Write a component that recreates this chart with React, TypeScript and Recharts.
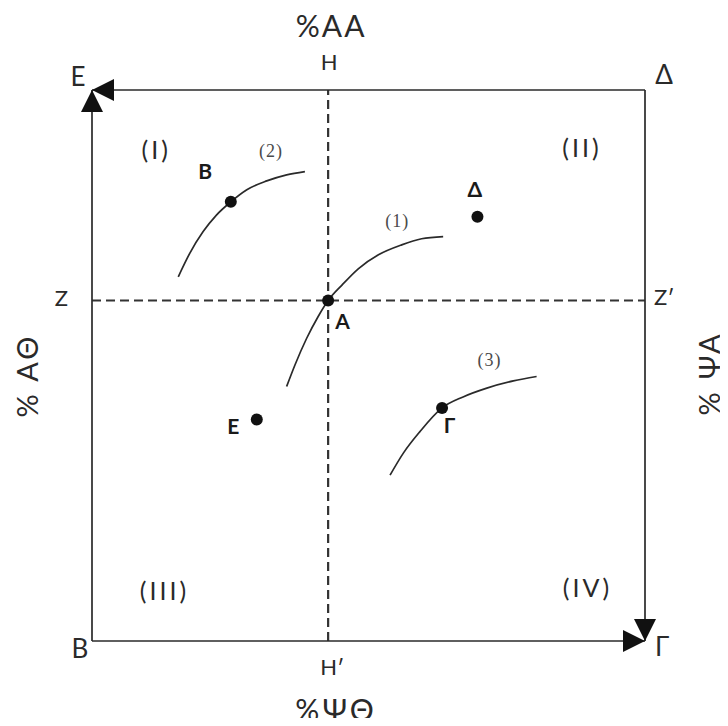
import { ComposedChart, Line, Scatter, XAxis, YAxis, ReferenceLine, ReferenceDot, LabelList } from 'recharts'

const SANS = 'Lato, "Open Sans", sans-serif'
const SERIF = '"Liberation Serif", "DejaVu Serif", serif'
const INK = '#2a2a2a'

// where the dashed axes H–H′ and Z–Z′ cross, in % of each side
const crossX = 42.7
const crossY = 61.8

const curve1 = [
  { x: 35.2, y: 46.2 }, { x: 36.7, y: 50.1 }, { x: 38.8, y: 54.9 }, { x: 40.9, y: 58.9 },
  { x: 42.7, y: 61.8 }, { x: 45.2, y: 64.6 }, { x: 48.2, y: 67.6 }, { x: 51.8, y: 70.1 },
  { x: 56.0, y: 71.9 }, { x: 59.6, y: 73.0 }, { x: 63.5, y: 73.4 },
]
const curve2 = [
  { x: 15.6, y: 66.1 }, { x: 17.7, y: 70.4 }, { x: 20.1, y: 74.3 }, { x: 22.5, y: 77.3 },
  { x: 25.1, y: 79.7 }, { x: 28.0, y: 81.9 }, { x: 31.6, y: 83.5 }, { x: 35.2, y: 84.6 },
  { x: 38.5, y: 85.2 },
]
const curve3 = [
  { x: 53.9, y: 30.1 }, { x: 56.3, y: 34.1 }, { x: 59.3, y: 38.0 }, { x: 63.3, y: 42.3 },
  { x: 67.1, y: 44.3 }, { x: 71.4, y: 45.9 }, { x: 76.2, y: 47.2 }, { x: 80.4, y: 48.0 },
]
const curveNames = ['(1)', '(2)', '(3)']
const curveData = [curve1, curve2, curve3]

const pointNames = ['Α', 'Β', 'Γ', 'Δ', 'Ε']
const pointX = [42.7, 25.1, 63.3, 69.7, 29.8]
const pointY = [61.8, 79.7, 42.3, 77.0, 40.2]
const points = pointNames.map((name, i) => ({ name, x: pointX[i], y: pointY[i] }))

const quadrantNames = ['(I)', '(II)', '(III)', '(IV)']

// label placement (pixels from the anchor) and quadrant label anchors
const pointLabelOffset: Record<string, [number, number]> = {
  'Α': [19, 25], 'Β': [-21, -26], 'Γ': [12, 22], 'Δ': [2, -23], 'Ε': [-19, 11],
}
const curveLabelOffset: [number, number][] = [[-46, -16], [-34, -21], [-47, -17]]
const quadrantAnchor: [number, number][] = [[11.6, 89.1], [88.6, 89.5], [13.1, 9.1], [89.6, 9.7]]

const ARROW_LEN = 22
const ARROW_HALF = 11

type Corner = { x: number; y: number; name: string; dx: number; dy: number; arrows: string[] }
const corners: Corner[] = [
  { x: 0, y: 100, name: 'Ε', dx: -14, dy: -13, arrows: ['left', 'up'] },
  { x: 100, y: 100, name: 'Δ', dx: 19, dy: -15, arrows: [] },
  { x: 0, y: 0, name: 'Β', dx: -12, dy: 8, arrows: [] },
  { x: 100, y: 0, name: 'Γ', dx: 17, dy: 6, arrows: ['right', 'down'] },
]

function arrowPoints(dir: string, cx: number, cy: number) {
  const l = ARROW_LEN
  const h = ARROW_HALF
  switch (dir) {
    case 'left': return `${cx},${cy} ${cx + l},${cy - h} ${cx + l},${cy + h}`
    case 'right': return `${cx},${cy} ${cx - l},${cy - h} ${cx - l},${cy + h}`
    case 'up': return `${cx},${cy} ${cx - h},${cy + l} ${cx + h},${cy + l}`
    default: return `${cx},${cy} ${cx - h},${cy - l} ${cx + h},${cy - l}`
  }
}

// text centred on (x, y) by its capital height
function Caption({ x, y, children, size, ...rest }: any) {
  return (
    <text x={x} y={y} dy={size * 0.36} textAnchor="middle" fontFamily={SANS} fontSize={size} fill={INK} {...rest}>
      {children}
    </text>
  )
}

function CornerMark({ cx, cy, corner }: any) {
  return (
    <g>
      {corner.arrows.map((d: string) => (
        <polygon key={d} points={arrowPoints(d, cx, cy)} fill="#111" />
      ))}
      <Caption x={cx + corner.dx} y={cy + corner.dy} size={26}>{corner.name}</Caption>
    </g>
  )
}

function TopTick({ x, y }: any) {
  return (
    <g fill={INK} fontFamily={SANS} textAnchor="middle">
      <text x={x + 1} y={y} fontSize={22}>Η</text>
      <text x={x + 3} y={y - 33} fontSize={30} letterSpacing={2}>%ΑΑ</text>
    </g>
  )
}

function BottomTick({ x, y }: any) {
  return (
    <g fill={INK} fontFamily={SANS} textAnchor="middle">
      <text x={x + 4} y={y} fontSize={22}>Η′</text>
      <text x={x + 8} y={y + 46} fontSize={30} letterSpacing={3}>%ΨΘ</text>
    </g>
  )
}

function LeftTick({ x, y }: any) {
  return <text x={x} y={y} dy={6} textAnchor="end" fontFamily={SANS} fontSize={22} fill={INK}>Ζ</text>
}

function RightTick({ x, y }: any) {
  return <text x={x} y={y} dy={5} textAnchor="start" fontFamily={SANS} fontSize={22} fill={INK}>Ζ′</text>
}

function sideTitle(text: string, dx: number, dy: number) {
  return ({ viewBox }: any) => {
    const cx = viewBox.x + dx
    const cy = viewBox.y + viewBox.height / 2 + dy
    return (
      <g transform={`rotate(-90 ${cx} ${cy})`}>
        <Caption x={cx} y={cy} size={29} letterSpacing={3}>{text}</Caption>
      </g>
    )
  }
}

function PointLabel({ x, y, value }: any) {
  const [dx, dy] = pointLabelOffset[value] ?? [0, 0]
  return <Caption x={x + dx} y={y + dy} size={21} fontWeight={700} fill="#1a1a1a">{value}</Caption>
}

const curveLabel = (i: number) => ({ x, y, index }: any) => {
  if (index !== curveData[i].length - 1) return null
  const [dx, dy] = curveLabelOffset[i]
  return (
    <text x={x + dx} y={y + dy} dy={6} textAnchor="middle" fontFamily={SERIF} fontSize={18} letterSpacing={1}
      fill="#4a4a4a">{curveNames[i]}</text>
  )
}

const axisLine = { stroke: INK, strokeWidth: 1.7 }

export default function App() {
  return (
    <div style={{ margin: -8, width: 728, height: 726, background: '#fff' }}>
      <ComposedChart width={728} height={726} margin={{ top: 0, right: 0, bottom: 0, left: 0 }}>
        <XAxis dataKey="x" type="number" domain={[0, 100]} allowDataOverflow orientation="bottom" height={85}
          ticks={[crossX]} interval={0} axisLine={axisLine} tickLine={false} tickSize={0} tickMargin={34}
          tick={<BottomTick />} />
        <XAxis xAxisId="top" dataKey="x" type="number" domain={[0, 100]} allowDataOverflow orientation="top" height={90}
          ticks={[crossX]} interval={0} axisLine={axisLine} tickLine={false} tickSize={0} tickMargin={20}
          tick={<TopTick />} />
        <YAxis dataKey="y" type="number" domain={[0, 100]} allowDataOverflow width={92}
          ticks={[crossY]} interval={0} axisLine={axisLine} tickLine={false} tickSize={0} tickMargin={24}
          tick={<LeftTick />} label={{ content: sideTitle('% ΑΘ', 28, 10) }} />
        <YAxis yAxisId="right" dataKey="y" type="number" domain={[0, 100]} allowDataOverflow orientation="right" width={83}
          ticks={[crossY]} interval={0} axisLine={axisLine} tickLine={false} tickSize={0} tickMargin={9}
          tick={<RightTick />} label={{ content: sideTitle('% ΨΑ', 65, 8) }} />

        <ReferenceLine x={crossX} stroke="#333" strokeWidth={2.2} strokeDasharray="9 5" />
        <ReferenceLine y={crossY} stroke="#333" strokeWidth={2.2} strokeDasharray="9 5" />

        {curveData.map((curve, i) => (
          <Line key={curveNames[i]} data={curve} dataKey="y" type="monotone" stroke="#2a2a2a" strokeWidth={1.7}
            dot={false} activeDot={false} isAnimationActive={false}>
            <LabelList dataKey="y" content={curveLabel(i)} />
          </Line>
        ))}

        <Scatter data={points} isAnimationActive={false}
          shape={(p: any) => <circle cx={p.cx} cy={p.cy} r={6} fill="#111" />}>
          <LabelList dataKey="name" content={<PointLabel />} />
        </Scatter>

        {quadrantNames.map((q, i) => (
          <ReferenceDot key={q} x={quadrantAnchor[i][0]} y={quadrantAnchor[i][1]} ifOverflow="visible"
            shape={(p: any) => <Caption x={p.cx} y={p.cy} size={25} letterSpacing={3}>{q}</Caption>} />
        ))}

        {corners.map((c) => (
          <ReferenceDot key={c.name} x={c.x} y={c.y} ifOverflow="visible"
            shape={(p: any) => <CornerMark cx={p.cx} cy={p.cy} corner={c} />} />
        ))}
      </ComposedChart>
    </div>
  )
}
